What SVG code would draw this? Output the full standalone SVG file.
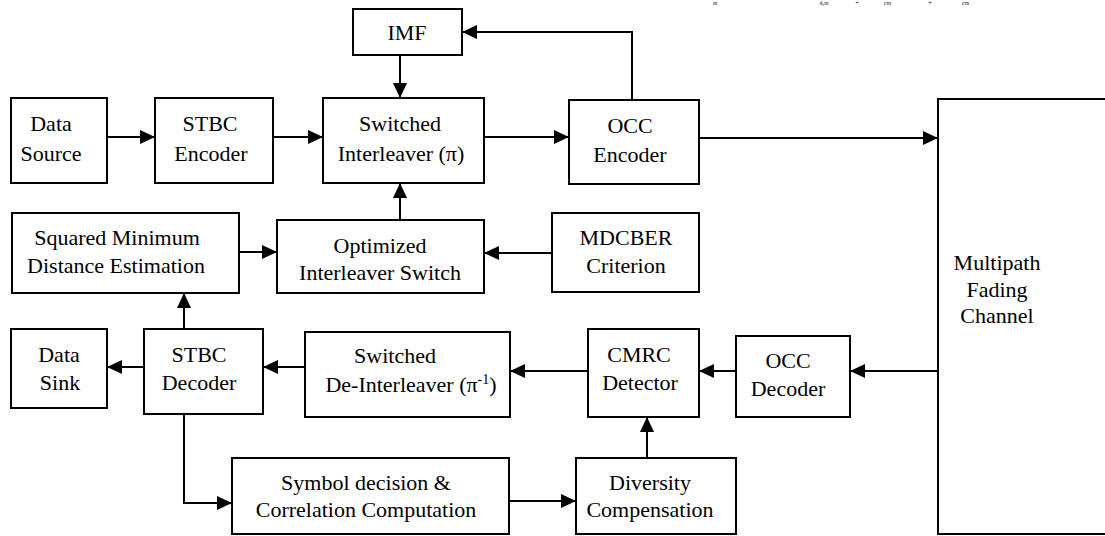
<svg xmlns="http://www.w3.org/2000/svg" width="1105" height="536" viewBox="0 0 1105 536">
<style>
.box{fill:#fff;stroke:#000;stroke-width:2}
.t{font-family:"Liberation Serif","Times New Roman",serif;font-size:22px;fill:#000;text-anchor:middle}
.frag{font-family:"Liberation Serif","Times New Roman",serif;font-style:italic;font-size:6px;fill:#000}
.c{fill:none;stroke:#000;stroke-width:2;marker-end:url(#ah)}
</style>
<defs>
<marker id="ah" markerUnits="userSpaceOnUse" markerWidth="16" markerHeight="16" refX="15" refY="7" orient="auto">
<path d="M0,0 L15,7 L0,14 z" fill="#000"/>
</marker>
</defs>
<rect width="1105" height="536" fill="#fff"/>
<g id="fragment">
<text class="frag" x="713" y="5">m</text>
<text class="frag" x="820" y="5">k,m</text>
<text class="frag" x="855" y="5">+</text>
<text class="frag" x="884" y="5">cm</text>
<text class="frag" x="928" y="5">+</text>
<text class="frag" x="962" y="5">cm</text>
</g>
<g id="connectors">
<path class="c" d="M107,137 H155"/>
<path class="c" d="M273,137 H323"/>
<path class="c" d="M484,137 H569"/>
<path class="c" d="M699,138 H938"/>
<path class="c" d="M632,100 V32 H462"/>
<path class="c" d="M400,55 V98"/>
<path class="c" d="M400,220 V183"/>
<path class="c" d="M239,252 H277"/>
<path class="c" d="M552,253 H484"/>
<path class="c" d="M184,329 V293"/>
<path class="c" d="M144,367 H107"/>
<path class="c" d="M305,367 H263"/>
<path class="c" d="M588,371 H510"/>
<path class="c" d="M736,371 H699"/>
<path class="c" d="M938,371 H850"/>
<path class="c" d="M647,458 V417"/>
<path class="c" d="M184,414 V503 H232"/>
<path class="c" d="M509,501 H576"/>
</g>
<g id="data-source">
<rect class="box" x="11" y="98" width="96" height="85"/>
<text class="t" x="51" y="131">Data</text>
<text class="t" x="51" y="161">Source</text>
</g>
<g id="stbc-encoder">
<rect class="box" x="155" y="98" width="118" height="85"/>
<text class="t" x="210" y="131">STBC</text>
<text class="t" x="211" y="161">Encoder</text>
</g>
<g id="switched-interleaver">
<rect class="box" x="323" y="98" width="161" height="85"/>
<text class="t" x="400" y="131">Switched</text>
<text class="t" x="401" y="161">Interleaver (π)</text>
</g>
<g id="imf">
<rect class="box" x="353" y="9" width="109" height="46"/>
<text class="t" x="407" y="40">IMF</text>
</g>
<g id="occ-encoder">
<rect class="box" x="569" y="100" width="130" height="84"/>
<text class="t" x="630" y="133">OCC</text>
<text class="t" x="630" y="162">Encoder</text>
</g>
<g id="multipath-fading-channel">
<rect class="box" x="938" y="99" width="200" height="435"/>
<text class="t" x="997" y="270">Multipath</text>
<text class="t" x="997" y="297">Fading</text>
<text class="t" x="997" y="323">Channel</text>
</g>
<g id="squared-minimum-distance">
<rect class="box" x="12" y="213" width="227" height="80"/>
<text class="t" x="117" y="245">Squared Minimum</text>
<text class="t" x="116" y="273">Distance Estimation</text>
</g>
<g id="optimized-interleaver-switch">
<rect class="box" x="277" y="220" width="207" height="73"/>
<text class="t" x="380" y="253">Optimized</text>
<text class="t" x="380" y="280">Interleaver Switch</text>
</g>
<g id="mdcber">
<rect class="box" x="552" y="213" width="147" height="79"/>
<text class="t" x="626" y="245">MDCBER</text>
<text class="t" x="626" y="273">Criterion</text>
</g>
<g id="data-sink">
<rect class="box" x="11" y="329" width="96" height="79"/>
<text class="t" x="59" y="362">Data</text>
<text class="t" x="60" y="390">Sink</text>
</g>
<g id="stbc-decoder">
<rect class="box" x="144" y="329" width="119" height="85"/>
<text class="t" x="199" y="362">STBC</text>
<text class="t" x="199" y="390">Decoder</text>
</g>
<g id="switched-deinterleaver">
<rect class="box" x="305" y="332" width="205" height="85"/>
<text class="t" x="395" y="363">Switched</text>
<text class="t" x="411" y="392">De-Interleaver (π<tspan font-size="14" dy="-8">-1</tspan><tspan dy="8">)</tspan></text>
</g>
<g id="cmrc-detector">
<rect class="box" x="588" y="329" width="111" height="88"/>
<text class="t" x="639" y="362">CMRC</text>
<text class="t" x="640" y="390">Detector</text>
</g>
<g id="occ-decoder">
<rect class="box" x="736" y="336" width="114" height="81"/>
<text class="t" x="788" y="368">OCC</text>
<text class="t" x="788" y="396">Decoder</text>
</g>
<g id="symbol-decision">
<rect class="box" x="232" y="458" width="277" height="76"/>
<text class="t" x="366" y="490">Symbol decision &amp;</text>
<text class="t" x="366" y="517">Correlation Computation</text>
</g>
<g id="diversity-compensation">
<rect class="box" x="576" y="458" width="160" height="76"/>
<text class="t" x="650" y="490">Diversity</text>
<text class="t" x="650" y="517">Compensation</text>
</g>
</svg>
